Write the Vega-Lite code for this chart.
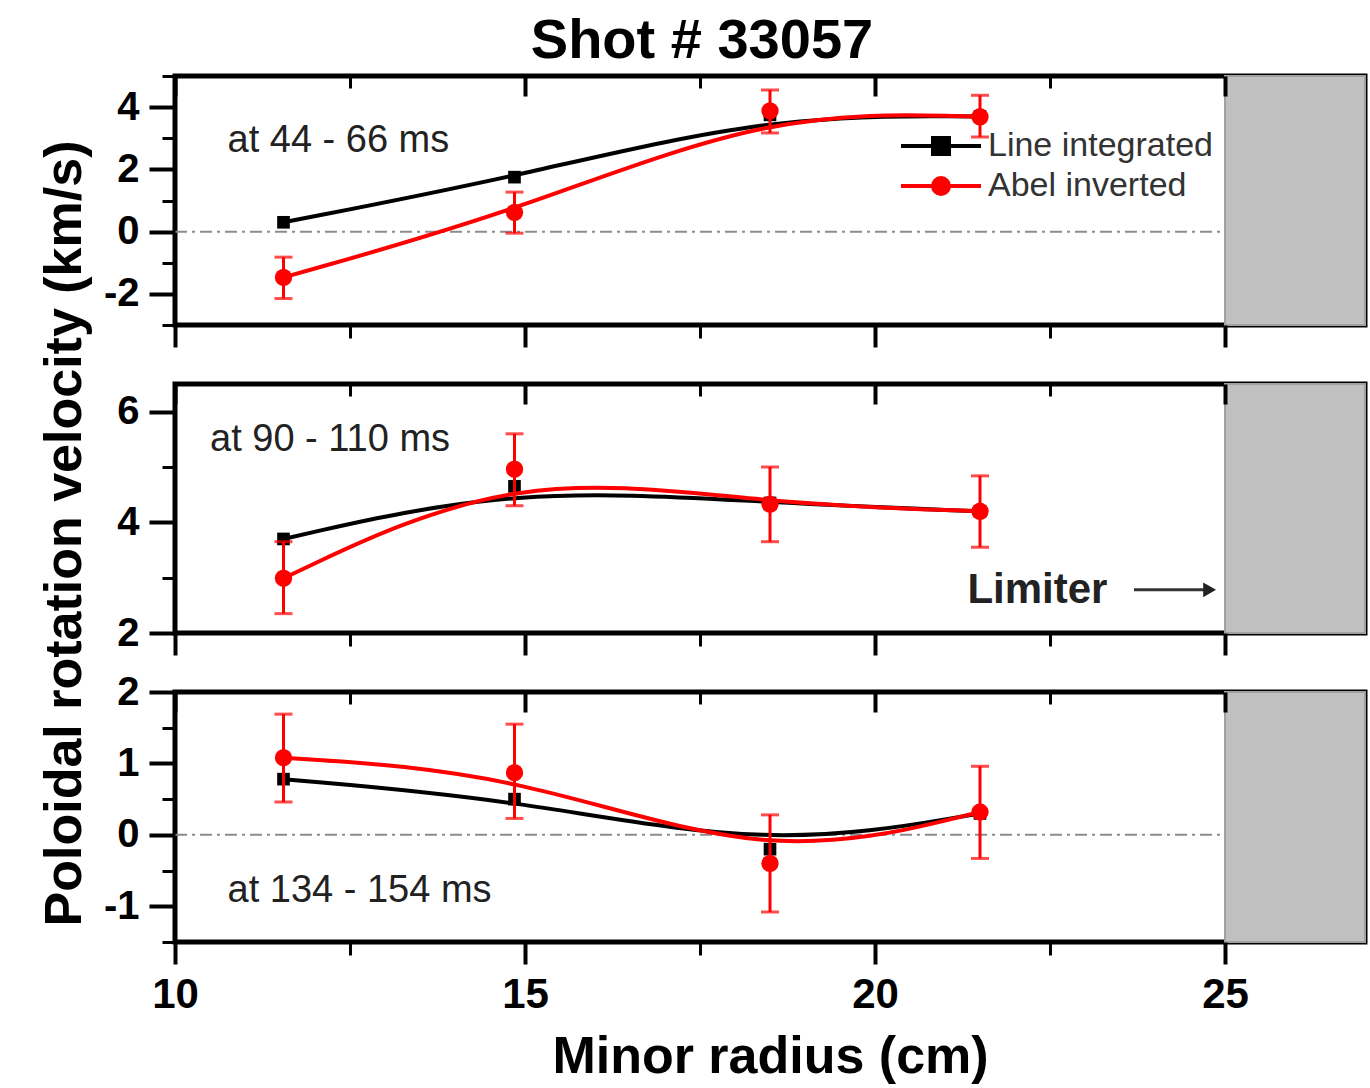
{
  "$schema": "https://vega.github.io/schema/vega-lite/v6.json",
  "padding": {"left": 35, "top": 12, "right": 3, "bottom": 0},
  "background": "white",
  "title": {"text": "Shot # 33057", "fontSize": 56, "fontWeight": "bold", "font": "Liberation Sans", "color": "black", "anchor": "middle", "frame": "bounds", "offset": 2},
  "spacing": 59,
  "bounds": "flush",
  "config": {
    "view": {"stroke": "black", "strokeWidth": 5},
    "font": "Liberation Sans",
    "axis": {"domain": false, "grid": false, "labelFont": "Liberation Sans", "labelFontWeight": "bold", "labelColor": "black", "tickColor": "black", "titleColor": "black", "titleFont": "Liberation Sans"}
  },
  "resolve": {"scale": {"x": "independent", "y": "independent", "color": "independent"}, "legend": {"color": "independent"}},
  "datasets": {
    "p1": [
      {"series": "Line integrated", "r": 11.55, "v": 0.3},
      {"series": "Line integrated", "r": 14.85, "v": 1.75},
      {"series": "Line integrated", "r": 18.5, "v": 3.75},
      {"series": "Line integrated", "r": 21.5, "v": 3.7},
      {"series": "Abel inverted", "r": 11.55, "v": -1.47, "lo": -2.15, "hi": -0.82},
      {"series": "Abel inverted", "r": 14.85, "v": 0.62, "lo": -0.05, "hi": 1.27},
      {"series": "Abel inverted", "r": 18.5, "v": 3.88, "lo": 3.17, "hi": 4.55},
      {"series": "Abel inverted", "r": 21.5, "v": 3.69, "lo": 3.04, "hi": 4.38}
    ],
    "p2": [
      {"series": "Line integrated", "r": 11.55, "v": 3.7},
      {"series": "Line integrated", "r": 14.85, "v": 4.65},
      {"series": "Line integrated", "r": 18.5, "v": 4.35},
      {"series": "Line integrated", "r": 21.5, "v": 4.2},
      {"series": "Abel inverted", "r": 11.55, "v": 2.99, "lo": 2.35, "hi": 3.65},
      {"series": "Abel inverted", "r": 14.85, "v": 4.96, "lo": 4.3, "hi": 5.6},
      {"series": "Abel inverted", "r": 18.5, "v": 4.33, "lo": 3.65, "hi": 5.0},
      {"series": "Abel inverted", "r": 21.5, "v": 4.2, "lo": 3.55, "hi": 4.84}
    ],
    "p3": [
      {"series": "Line integrated", "r": 11.55, "v": 0.78},
      {"series": "Line integrated", "r": 14.85, "v": 0.5},
      {"series": "Line integrated", "r": 18.5, "v": -0.2},
      {"series": "Line integrated", "r": 21.5, "v": 0.3},
      {"series": "Abel inverted", "r": 11.55, "v": 1.08, "lo": 0.46, "hi": 1.69},
      {"series": "Abel inverted", "r": 14.85, "v": 0.87, "lo": 0.23, "hi": 1.55},
      {"series": "Abel inverted", "r": 18.5, "v": -0.4, "lo": -1.08, "hi": 0.28},
      {"series": "Abel inverted", "r": 21.5, "v": 0.32, "lo": -0.33, "hi": 0.96}
    ]
  },
  "vconcat": [
    {
      "width": 1190, "height": 249,
      "data": {"values": [{}]},
      "resolve": {"axis": {"x": "independent", "y": "independent"}},
      "layer": [
        {"mark": {"type": "rect", "fill": "#c0c0c0", "stroke": "#a0a0a0", "strokeWidth": 2},
         "encoding": {"x": {"datum": 25, "type": "quantitative", "scale": {"domain": [10, 27], "nice": false, "zero": false},
            "axis": {"orient": "bottom", "values": [10, 15, 20, 25], "tickSize": 22, "tickWidth": 4, "labels": false, "title": null, "zindex": 1}},
           "x2": {"datum": 27}}},
        {"mark": {"type": "rule", "color": "#8c8c8c", "strokeWidth": 2, "strokeDash": [12, 5, 3, 5]},
         "encoding": {"x": {"datum": 10, "type": "quantitative", "axis": null}, "x2": {"datum": 25}, "y": {"datum": 0, "type": "quantitative", "axis": null}}},
        {"data": {"name": "p1"}, "transform": [{"filter": "datum.series === 'Line integrated'"}],
         "mark": {"type": "line", "interpolate": "basis", "strokeWidth": 4},
         "encoding": {
           "x": {"field": "r", "type": "quantitative", "axis": {"orient": "bottom", "values": [12.5, 17.5, 22.5], "tickSize": 13, "tickWidth": 3, "labels": false, "title": null, "zindex": 1}},
           "y": {"field": "v", "type": "quantitative", "scale": {"domain": [-3, 5], "nice": false, "zero": false},
             "axis": {"orient": "left", "values": [-2, 0, 2, 4], "tickSize": 26, "tickWidth": 4, "labelFontSize": 40, "labelPadding": 10, "labelExpr": "toString(datum.value)", "title": null, "zindex": 1}},
           "color": {"field": "series", "type": "nominal", "scale": {"domain": ["Line integrated", "Abel inverted"], "range": ["black", "red"]},
             "legend": {"orient": "none", "legendX": 749, "legendY": 53, "title": null, "padding": 0, "labelFontSize": 34, "labelFont": "Liberation Sans", "labelFontWeight": "normal", "labelColor": "#333333", "labelOffset": 30, "labelLimit": 400, "rowPadding": 6, "symbolType": "M-5,0H5M-1,-1H1V1H-1Z", "symbolSize": 256, "symbolStrokeWidth": 4,
               "encode": {"symbols": {"update": {"shape": {"signal": "datum.value === 'Abel inverted' ? 'M-5,0H5M1,0A1,1,0,1,1,-1,0A1,1,0,1,1,1,0Z' : 'M-5,0H5M-1,-1H1V1H-1Z'"}, "fill": {"signal": "datum.value === 'Abel inverted' ? 'red' : 'black'"}}}}}}}},
        {"data": {"name": "p1"}, "transform": [{"filter": "datum.series === 'Line integrated'"}],
         "mark": {"type": "point", "shape": "square", "filled": true, "size": 160, "color": "black", "opacity": 1},
         "encoding": {"x": {"field": "r", "type": "quantitative", "axis": {"orient": "top", "values": [12.5, 17.5, 22.5], "tickSize": -12, "tickWidth": 3, "labels": false, "title": null, "zindex": 1}},
           "y": {"field": "v", "type": "quantitative", "axis": null}}},
        {"data": {"name": "p1"}, "transform": [{"filter": "datum.series === 'Abel inverted'"}],
         "mark": {"type": "line", "interpolate": "basis", "strokeWidth": 4},
         "encoding": {
           "x": {"field": "r", "type": "quantitative", "axis": {"orient": "top", "values": [10, 15, 20, 25], "tickSize": -20, "tickWidth": 4, "labels": false, "title": null, "zindex": 1}},
           "y": {"field": "v", "type": "quantitative", "axis": {"orient": "left", "values": [-3, -1, 1, 3, 5], "tickSize": 13, "tickWidth": 3, "labels": false, "title": null, "zindex": 1}},
           "color": {"field": "series", "type": "nominal",
             "legend": {"orient": "none", "legendX": 749, "legendY": 53, "title": null, "padding": 0, "labelFontSize": 34, "labelFont": "Liberation Sans", "labelFontWeight": "normal", "labelColor": "#333333", "labelOffset": 30, "labelLimit": 400, "rowPadding": 6, "symbolType": "M-5,0H5M-1,-1H1V1H-1Z", "symbolSize": 256, "symbolStrokeWidth": 4,
               "encode": {"symbols": {"update": {"shape": {"signal": "datum.value === 'Abel inverted' ? 'M-5,0H5M1,0A1,1,0,1,1,-1,0A1,1,0,1,1,1,0Z' : 'M-5,0H5M-1,-1H1V1H-1Z'"}, "fill": {"signal": "datum.value === 'Abel inverted' ? 'red' : 'black'"}}}}}}}},
        {"data": {"name": "p1"}, "transform": [{"filter": "datum.series === 'Abel inverted'"}],
         "mark": {"type": "rule", "color": "red", "strokeWidth": 3},
         "encoding": {"x": {"field": "r", "type": "quantitative", "axis": null}, "y": {"field": "lo", "type": "quantitative", "axis": null}, "y2": {"field": "hi"}}},
        {"data": {"name": "p1"}, "transform": [{"filter": "datum.series === 'Abel inverted'"}],
         "mark": {"type": "tick", "orient": "horizontal", "color": "red", "thickness": 3, "size": 18},
         "encoding": {"x": {"field": "r", "type": "quantitative", "axis": null}, "y": {"field": "lo", "type": "quantitative", "axis": null}}},
        {"data": {"name": "p1"}, "transform": [{"filter": "datum.series === 'Abel inverted'"}],
         "mark": {"type": "tick", "orient": "horizontal", "color": "red", "thickness": 3, "size": 18},
         "encoding": {"x": {"field": "r", "type": "quantitative", "axis": null}, "y": {"field": "hi", "type": "quantitative", "axis": null}}},
        {"data": {"name": "p1"}, "transform": [{"filter": "datum.series === 'Abel inverted'"}],
         "mark": {"type": "point", "shape": "circle", "filled": true, "size": 300, "color": "red", "opacity": 1},
         "encoding": {"x": {"field": "r", "type": "quantitative", "axis": null}, "y": {"field": "v", "type": "quantitative", "axis": null}}},
        {"mark": {"type": "text", "align": "left", "baseline": "alphabetic", "fontSize": 38, "font": "Liberation Sans", "color": "#222222"},
         "encoding": {"x": {"datum": 10.75, "type": "quantitative", "axis": null}, "y": {"datum": 2.55, "type": "quantitative", "axis": null}, "text": {"value": "at 44 - 66 ms"}}}
      ]
    },
    {
      "width": 1190, "height": 249,
      "data": {"values": [{}]},
      "resolve": {"axis": {"x": "independent", "y": "independent"}},
      "layer": [
        {"mark": {"type": "rect", "fill": "#c0c0c0", "stroke": "#a0a0a0", "strokeWidth": 2},
         "encoding": {"x": {"datum": 25, "type": "quantitative", "scale": {"domain": [10, 27], "nice": false, "zero": false},
            "axis": {"orient": "bottom", "values": [10, 15, 20, 25], "tickSize": 22, "tickWidth": 4, "labels": false, "title": null, "zindex": 1}},
           "x2": {"datum": 27}}},
        {"data": {"name": "p2"}, "transform": [{"filter": "datum.series === 'Line integrated'"}],
         "mark": {"type": "line", "interpolate": "basis", "strokeWidth": 4},
         "encoding": {
           "x": {"field": "r", "type": "quantitative", "axis": {"orient": "bottom", "values": [12.5, 17.5, 22.5], "tickSize": 13, "tickWidth": 3, "labels": false, "title": null, "zindex": 1}},
           "y": {"field": "v", "type": "quantitative", "scale": {"domain": [2, 6.5], "nice": false, "zero": false},
             "axis": {"orient": "left", "values": [2, 4, 6], "tickSize": 26, "tickWidth": 4, "labelFontSize": 40, "labelPadding": 10, "labelExpr": "toString(datum.value)", "title": "Poloidal rotation velocity (km/s)", "titleFontSize": 52, "titleFontWeight": "bold", "titleX": -84, "titleY": 149, "titleAngle": -90, "titleBaseline": "bottom", "titleAlign": "center", "zindex": 1}},
           "color": {"field": "series", "type": "nominal", "scale": {"domain": ["Line integrated", "Abel inverted"], "range": ["black", "red"]}, "legend": null}}},
        {"data": {"name": "p2"}, "transform": [{"filter": "datum.series === 'Line integrated'"}],
         "mark": {"type": "point", "shape": "square", "filled": true, "size": 160, "color": "black", "opacity": 1},
         "encoding": {"x": {"field": "r", "type": "quantitative", "axis": {"orient": "top", "values": [12.5, 17.5, 22.5], "tickSize": -12, "tickWidth": 3, "labels": false, "title": null, "zindex": 1}},
           "y": {"field": "v", "type": "quantitative", "axis": null}}},
        {"data": {"name": "p2"}, "transform": [{"filter": "datum.series === 'Abel inverted'"}],
         "mark": {"type": "line", "interpolate": "basis", "strokeWidth": 4},
         "encoding": {
           "x": {"field": "r", "type": "quantitative", "axis": {"orient": "top", "values": [10, 15, 20, 25], "tickSize": -20, "tickWidth": 4, "labels": false, "title": null, "zindex": 1}},
           "y": {"field": "v", "type": "quantitative", "axis": {"orient": "left", "values": [3, 5], "tickSize": 13, "tickWidth": 3, "labels": false, "title": null, "zindex": 1}},
           "color": {"field": "series", "type": "nominal", "legend": null}}},
        {"data": {"name": "p2"}, "transform": [{"filter": "datum.series === 'Abel inverted'"}],
         "mark": {"type": "rule", "color": "red", "strokeWidth": 3},
         "encoding": {"x": {"field": "r", "type": "quantitative", "axis": null}, "y": {"field": "lo", "type": "quantitative", "axis": null}, "y2": {"field": "hi"}}},
        {"data": {"name": "p2"}, "transform": [{"filter": "datum.series === 'Abel inverted'"}],
         "mark": {"type": "tick", "orient": "horizontal", "color": "red", "thickness": 3, "size": 18},
         "encoding": {"x": {"field": "r", "type": "quantitative", "axis": null}, "y": {"field": "lo", "type": "quantitative", "axis": null}}},
        {"data": {"name": "p2"}, "transform": [{"filter": "datum.series === 'Abel inverted'"}],
         "mark": {"type": "tick", "orient": "horizontal", "color": "red", "thickness": 3, "size": 18},
         "encoding": {"x": {"field": "r", "type": "quantitative", "axis": null}, "y": {"field": "hi", "type": "quantitative", "axis": null}}},
        {"data": {"name": "p2"}, "transform": [{"filter": "datum.series === 'Abel inverted'"}],
         "mark": {"type": "point", "shape": "circle", "filled": true, "size": 300, "color": "red", "opacity": 1},
         "encoding": {"x": {"field": "r", "type": "quantitative", "axis": null}, "y": {"field": "v", "type": "quantitative", "axis": null}}},
        {"mark": {"type": "text", "align": "left", "baseline": "alphabetic", "fontSize": 38, "font": "Liberation Sans", "color": "#222222"},
         "encoding": {"x": {"datum": 10.5, "type": "quantitative", "axis": null}, "y": {"datum": 5.29, "type": "quantitative", "axis": null}, "text": {"value": "at 90 - 110 ms"}}},
        {"mark": {"type": "text", "align": "center", "baseline": "alphabetic", "fontSize": 42, "fontWeight": "bold", "font": "Liberation Sans", "color": "#222222"},
         "encoding": {"x": {"datum": 22.32, "type": "quantitative", "axis": null}, "y": {"datum": 2.55, "type": "quantitative", "axis": null}, "text": {"value": "Limiter"}}},
        {"mark": {"type": "rule", "color": "#333333", "strokeWidth": 3},
         "encoding": {"x": {"datum": 23.7, "type": "quantitative", "axis": null}, "x2": {"datum": 24.75}, "y": {"datum": 2.78, "type": "quantitative", "axis": null}}},
        {"mark": {"type": "point", "shape": "triangle-right", "filled": true, "size": 220, "color": "#222222", "opacity": 1},
         "encoding": {"x": {"datum": 24.78, "type": "quantitative", "axis": null}, "y": {"datum": 2.78, "type": "quantitative", "axis": null}}}
      ]
    },
    {
      "width": 1190, "height": 250,
      "data": {"values": [{}]},
      "resolve": {"axis": {"x": "independent", "y": "independent"}},
      "layer": [
        {"mark": {"type": "rect", "fill": "#c0c0c0", "stroke": "#a0a0a0", "strokeWidth": 2},
         "encoding": {"x": {"datum": 25, "type": "quantitative", "scale": {"domain": [10, 27], "nice": false, "zero": false},
            "axis": {"orient": "bottom", "values": [10, 15, 20, 25], "tickSize": 22, "tickWidth": 4, "labelFontSize": 42, "labelPadding": 10, "labelFlush": false, "title": "Minor radius (cm)", "titleFontSize": 52, "titleFontWeight": "bold", "titlePadding": 16, "zindex": 1}},
           "x2": {"datum": 27}}},
        {"mark": {"type": "rule", "color": "#8c8c8c", "strokeWidth": 2, "strokeDash": [12, 5, 3, 5]},
         "encoding": {"x": {"datum": 10, "type": "quantitative", "axis": null}, "x2": {"datum": 25}, "y": {"datum": 0, "type": "quantitative", "axis": null}}},
        {"data": {"name": "p3"}, "transform": [{"filter": "datum.series === 'Line integrated'"}],
         "mark": {"type": "line", "interpolate": "basis", "strokeWidth": 4},
         "encoding": {
           "x": {"field": "r", "type": "quantitative", "axis": {"orient": "bottom", "values": [12.5, 17.5, 22.5], "tickSize": 13, "tickWidth": 3, "labels": false, "title": null, "zindex": 1}},
           "y": {"field": "v", "type": "quantitative", "scale": {"domain": [-1.5, 2], "nice": false, "zero": false},
             "axis": {"orient": "left", "values": [-1, 0, 1, 2], "tickSize": 26, "tickWidth": 4, "labelFontSize": 40, "labelPadding": 10, "labelExpr": "toString(datum.value)", "title": null, "zindex": 1}},
           "color": {"field": "series", "type": "nominal", "scale": {"domain": ["Line integrated", "Abel inverted"], "range": ["black", "red"]}, "legend": null}}},
        {"data": {"name": "p3"}, "transform": [{"filter": "datum.series === 'Line integrated'"}],
         "mark": {"type": "point", "shape": "square", "filled": true, "size": 160, "color": "black", "opacity": 1},
         "encoding": {"x": {"field": "r", "type": "quantitative", "axis": {"orient": "top", "values": [12.5, 17.5, 22.5], "tickSize": -12, "tickWidth": 3, "labels": false, "title": null, "zindex": 1}},
           "y": {"field": "v", "type": "quantitative", "axis": null}}},
        {"data": {"name": "p3"}, "transform": [{"filter": "datum.series === 'Abel inverted'"}],
         "mark": {"type": "line", "interpolate": "basis", "strokeWidth": 4},
         "encoding": {
           "x": {"field": "r", "type": "quantitative", "axis": {"orient": "top", "values": [10, 15, 20, 25], "tickSize": -20, "tickWidth": 4, "labels": false, "title": null, "zindex": 1}},
           "y": {"field": "v", "type": "quantitative", "axis": {"orient": "left", "values": [-1.5, -0.5, 0.5, 1.5], "tickSize": 13, "tickWidth": 3, "labels": false, "title": null, "zindex": 1}},
           "color": {"field": "series", "type": "nominal", "legend": null}}},
        {"data": {"name": "p3"}, "transform": [{"filter": "datum.series === 'Abel inverted'"}],
         "mark": {"type": "rule", "color": "red", "strokeWidth": 3},
         "encoding": {"x": {"field": "r", "type": "quantitative", "axis": null}, "y": {"field": "lo", "type": "quantitative", "axis": null}, "y2": {"field": "hi"}}},
        {"data": {"name": "p3"}, "transform": [{"filter": "datum.series === 'Abel inverted'"}],
         "mark": {"type": "tick", "orient": "horizontal", "color": "red", "thickness": 3, "size": 18},
         "encoding": {"x": {"field": "r", "type": "quantitative", "axis": null}, "y": {"field": "lo", "type": "quantitative", "axis": null}}},
        {"data": {"name": "p3"}, "transform": [{"filter": "datum.series === 'Abel inverted'"}],
         "mark": {"type": "tick", "orient": "horizontal", "color": "red", "thickness": 3, "size": 18},
         "encoding": {"x": {"field": "r", "type": "quantitative", "axis": null}, "y": {"field": "hi", "type": "quantitative", "axis": null}}},
        {"data": {"name": "p3"}, "transform": [{"filter": "datum.series === 'Abel inverted'"}],
         "mark": {"type": "point", "shape": "circle", "filled": true, "size": 300, "color": "red", "opacity": 1},
         "encoding": {"x": {"field": "r", "type": "quantitative", "axis": null}, "y": {"field": "v", "type": "quantitative", "axis": null}}},
        {"mark": {"type": "text", "align": "left", "baseline": "alphabetic", "fontSize": 38, "font": "Liberation Sans", "color": "#222222"},
         "encoding": {"x": {"datum": 10.75, "type": "quantitative", "axis": null}, "y": {"datum": -0.94, "type": "quantitative", "axis": null}, "text": {"value": "at 134 - 154 ms"}}}
      ]
    }
  ]
}
